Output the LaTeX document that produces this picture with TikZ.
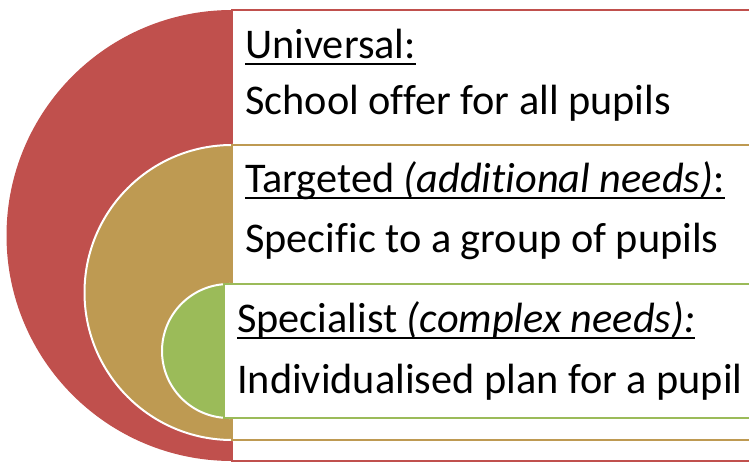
\documentclass[tikz,border=0pt]{standalone}
\usepackage{fontspec}
\setmainfont{Carlito}[Ligatures=NoCommon]
\usepackage{tikz}
\usepackage{xcolor}
\definecolor{univred}{HTML}{C0504D}
\definecolor{targtan}{HTML}{BE9A52}
\definecolor{specgreen}{HTML}{9BBB59}
\newsavebox{\ulsave}
\newcommand{\ulbar}[1]{\sbox\ulsave{#1}\rlap{\rule[-6.5pt]{\wd\ulsave}{2pt}}\usebox\ulsave}

\begin{document}
\begin{tikzpicture}[x=1pt, y=-1pt,
    box/.style={line width=2.5pt, fill=white},
    disc/.style={draw=white, line width=2pt},
    boxtext/.style={anchor=base west, inner sep=0pt, font=\fontsize{42.3}{50}\selectfont}]
    \path[use as bounding box, clip] (0,0) rectangle (749,462);
    % universal
    \fill[univred] (232,10) arc[start angle=270, end angle=90, radius=225.5] -- cycle;
    \draw[box, draw=univred] (232,10) rectangle (760,461);
    \node[boxtext] (univ) at (245,59) {\ulbar{Universal:}};
    \node[boxtext] (univtxt) at (245,115) {School offer for all pupils};
    % targeted
    \filldraw[disc, fill=targtan] (232,145) arc[start angle=270, end angle=90, radius=147.5] -- cycle;
    \draw[box, draw=targtan] (232,145) rectangle (760,440);
    \node[boxtext] (targ) at (245,193) {\ulbar{Targeted \textit{(additional needs)}:}};
    \node[boxtext] (targtxt) at (245,253) {Specific to a group of pupils};
    % specialist
    \filldraw[disc, fill=specgreen] (229,284) arc[start angle=270, end angle=90, radius=67] -- cycle;
    \draw[box, draw=specgreen] (224,284) rectangle (760,418);
    \node[boxtext] (spec) at (237,332) {\ulbar{Specialist \textit{(complex needs):}}};
    \node[boxtext] (spectxt) at (237,393) {Individualised plan for a pupil};
\end{tikzpicture}
\end{document}
